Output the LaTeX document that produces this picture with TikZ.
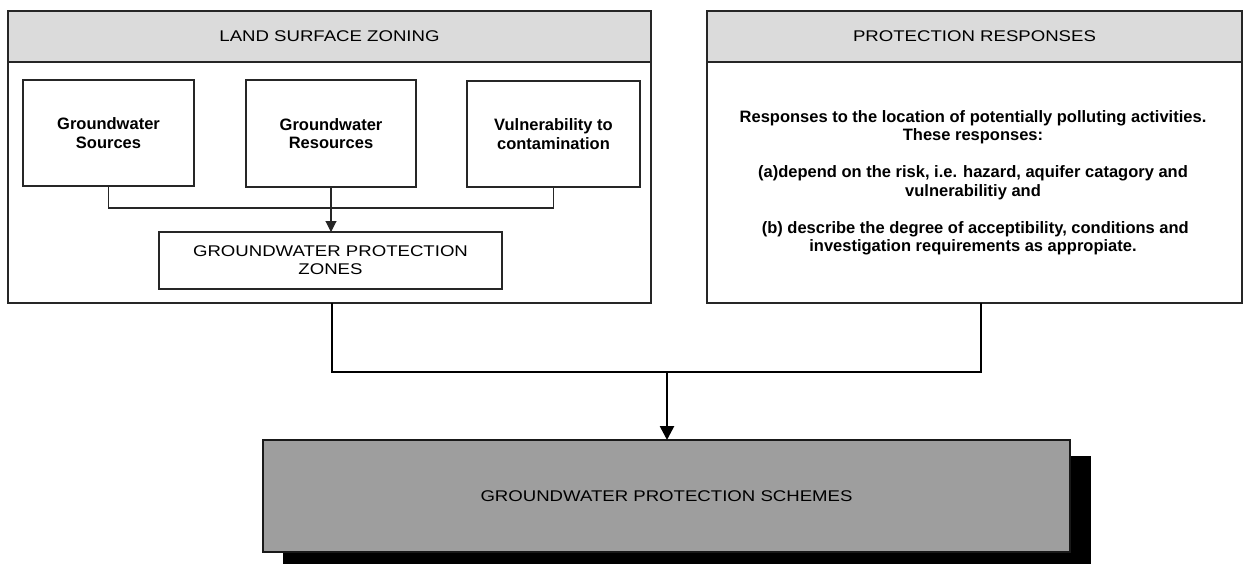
\documentclass[tikz,border=0pt]{standalone}
\usepackage{fontspec}
\setmainfont{Liberation Sans}
\newfontfamily\capsfont[FakeStretch=1.2]{Liberation Sans}
\usetikzlibrary{arrows.meta,calc}
\begin{document}
\begin{tikzpicture}[x=1pt,y=-1pt,
  panel/.style={draw=black!85, line width=1.2pt, inner sep=0pt, outer sep=0pt, anchor=north west},
  header/.style={panel, fill=black!14, font=\capsfont\fontsize{15.5}{18}\selectfont},
  subbox/.style={draw=black!85, line width=1.1pt, inner sep=0pt, outer sep=0pt, anchor=north west, align=center, font=\bfseries\fontsize{16.5}{18.5}\selectfont},
  capsbox/.style={subbox, font=\capsfont\fontsize{15.5}{18}\selectfont},
  thin/.style={draw=black!85, line width=1.1pt},
  thick/.style={draw=black, line width=2.6pt},
  tip/.style={-{Triangle[length=11pt,width=11pt]}},
  bigtip/.style={-{Triangle[length=14pt,width=14pt]}}
]
\useasboundingbox (0,0) rectangle (1244,564);
% left panel
\node[panel, minimum width=643pt, minimum height=292pt] (lp) at (8,11) {};
\node[header, minimum width=643pt, minimum height=51pt] (lh) at (8,11) {LAND SURFACE ZONING};
\node[subbox, minimum width=171pt, minimum height=106pt] (src) at (23,80) {Groundwater\\Sources};
\node[subbox, minimum width=170pt, minimum height=107pt] (res) at (246,80) {Groundwater\\Resources};
\node[subbox, minimum width=173pt, minimum height=106pt] (vul) at (467,81) {Vulnerability to\\contamination};
\node[capsbox, minimum width=343pt, minimum height=57pt] (zon) at (159,232) {GROUNDWATER PROTECTION\\ZONES};
\coordinate (j) at (332,208);
\draw[thin] (src.south) |- (j) -| (vul.south);
\draw[thin, tip] (res.south) -- (res.south |- zon.north);
% right panel
\node[panel, minimum width=535pt, minimum height=292pt] (rp) at (707,11) {};
\node[header, minimum width=535pt, minimum height=51pt] (rh) at (707,11) {PROTECTION RESPONSES};
\node[align=center, font=\bfseries\fontsize{16.5}{18.5}\selectfont, inner sep=0pt] (rt) at (973,183)
  {Responses to the location of potentially polluting activities.\\
   These responses:\\[18.5pt]
   (a)depend on the risk, i.e. hazard, aquifer catagory and\\
   vulnerabilitiy and\\[18.5pt]
   \ (b) describe the degree of acceptibility, conditions and\\
   investigation requirements as appropiate.};
% bottom
\fill[black] (283,456) rectangle (1091,566);
\node[capsbox, fill=black!38, draw=black!90, minimum width=807pt, minimum height=112pt] (sch) at (263,440) {GROUNDWATER PROTECTION SCHEMES};
\coordinate (lb) at (332,303);
\coordinate (rb) at (981,303);
\coordinate (m) at (667,372);
\draw[thick] (lb) |- (m) -| (rb);
\draw[thick, bigtip] (m) -- (m |- sch.north);
\end{tikzpicture}
\end{document}
